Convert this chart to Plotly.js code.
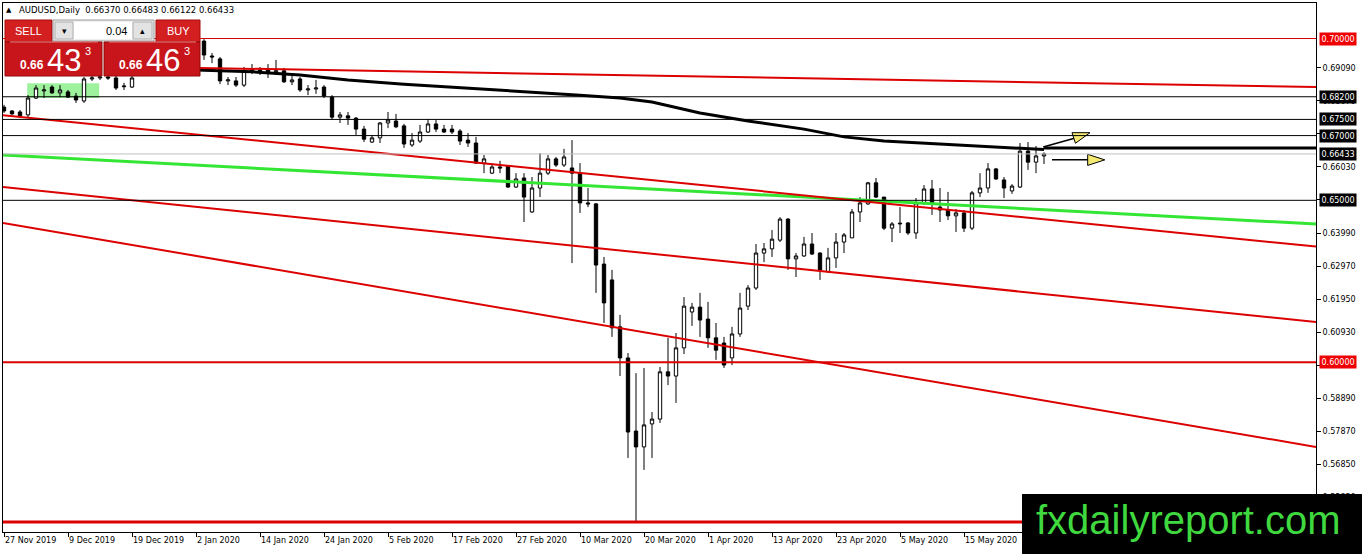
<!DOCTYPE html>
<html><head><meta charset="utf-8">
<script src="https://cdn.plot.ly/plotly-3.0.1.min.js"></script>
<style>html,body{margin:0;padding:0;background:#fff;}#chart{width:1362px;height:554px;}</style>
</head><body><div id="chart"></div>
<script>
// ---------- DATA ----------
const tickIdx = [0, 8, 16, 24, 32, 40, 48, 56, 64, 72, 80, 88, 96, 104, 112, 120];
const tickLabels = ['27 Nov 2019','9 Dec 2019','19 Dec 2019','2 Jan 2020','14 Jan 2020','24 Jan 2020','5 Feb 2020','17 Feb 2020','27 Feb 2020','10 Mar 2020','20 Mar 2020','1 Apr 2020','13 Apr 2020','23 Apr 2020','5 May 2020','15 May 2020'];

const openP = [
0.6788,0.6776,0.6773,0.6764,0.6816,0.6838,0.6850,0.6832,0.6835,0.6822,
0.6807,0.6875,0.6878,0.6881,0.6878,0.6851,0.6850,0.6888,0.6900,0.6912,
0.6930,0.6958,0.6985,0.6998,0.7020,0.6992,0.6946,0.6937,0.6869,0.6869,
0.6856,0.6900,0.6903,0.6906,0.6897,0.6900,0.6866,0.6875,0.6841,0.6844,
0.6850,0.6819,0.6757,0.6761,0.6754,0.6720,0.6680,0.6693,0.6739,0.6745,
0.6730,0.6671,0.6683,0.6711,0.6736,0.6720,0.6720,0.6714,0.6686,0.6677,
0.6615,0.6584,0.6603,0.6606,0.6541,0.6569,0.6464,0.6538,0.6584,0.6628,
0.6609,0.6600,0.6584,0.6492,0.6489,0.6303,0.6254,0.6109,0.6013,0.5787,
0.5738,0.5809,0.5824,0.5970,0.5957,0.6044,0.6155,0.6170,0.6133,0.6075,
0.6059,0.6013,0.6087,0.6173,0.6229,0.6337,0.6350,0.6377,0.6442,0.6319,
0.6328,0.6365,0.6337,0.6279,0.6322,0.6371,0.6384,0.6464,0.6489,0.6554,
0.6510,0.6414,0.6427,0.6430,0.6399,0.6492,0.6535,0.6479,0.6470,0.6452,
0.6461,0.6414,0.6523,0.6538,0.6597,0.6563,0.6529,0.6541,0.6652,0.6618,
0.66370];
const highP = [
0.6795,0.6779,0.6779,0.6825,0.6856,0.6856,0.6856,0.6856,0.6841,0.6832,
0.6881,0.6903,0.6927,0.6897,0.6890,0.6863,0.6890,0.6905,0.6920,0.6935,
0.6965,0.6990,0.7005,0.7030,0.7032,0.6998,0.6955,0.6943,0.6881,0.6881,
0.6912,0.6921,0.6912,0.6921,0.6934,0.6909,0.6884,0.6881,0.6856,0.6872,
0.6856,0.6825,0.6773,0.6773,0.6757,0.6730,0.6702,0.6742,0.6773,0.6767,
0.6736,0.6708,0.6733,0.6751,0.6748,0.6733,0.6733,0.6720,0.6708,0.6696,
0.6640,0.6615,0.6622,0.6609,0.6584,0.6584,0.6572,0.6646,0.6640,0.6634,
0.6659,0.6686,0.6615,0.6538,0.6492,0.6325,0.6285,0.6146,0.6028,0.5966,
0.5982,0.5846,0.5985,0.6075,0.6090,0.6201,0.6183,0.6214,0.6186,0.6121,
0.6078,0.6109,0.6214,0.6238,0.6365,0.6368,0.6408,0.6448,0.6445,0.6337,
0.6387,0.6399,0.6340,0.6353,0.6399,0.6399,0.6473,0.6510,0.6557,0.6569,
0.6510,0.6433,0.6479,0.6433,0.6507,0.6547,0.6563,0.6538,0.6526,0.6473,
0.6470,0.6529,0.6584,0.6615,0.6600,0.6572,0.6550,0.6677,0.6680,0.6668,
0.66483];
const lowP = [
0.6770,0.6764,0.6754,0.6754,0.6813,0.6816,0.6829,0.6819,0.6816,0.6801,
0.6801,0.6869,0.6872,0.6872,0.6841,0.6841,0.6847,0.6886,0.6892,0.6905,
0.6925,0.6950,0.6975,0.6990,0.6985,0.6934,0.6924,0.6859,0.6856,0.6850,
0.6850,0.6890,0.6887,0.6878,0.6893,0.6863,0.6856,0.6835,0.6825,0.6829,
0.6816,0.6748,0.6739,0.6733,0.6702,0.6680,0.6677,0.6677,0.6723,0.6723,
0.6662,0.6665,0.6677,0.6708,0.6711,0.6708,0.6705,0.6671,0.6665,0.6612,
0.6584,0.6581,0.6584,0.6538,0.6538,0.6433,0.6461,0.6510,0.6578,0.6603,
0.6603,0.6306,0.6461,0.6479,0.6214,0.6121,0.6078,0.5957,0.5704,0.5506,
0.5667,0.5704,0.5812,0.5929,0.5874,0.6025,0.6112,0.6078,0.6044,0.6007,
0.5982,0.5991,0.6078,0.6161,0.6223,0.6309,0.6325,0.6371,0.6285,0.6263,
0.6325,0.6331,0.6254,0.6279,0.6291,0.6337,0.6384,0.6433,0.6486,0.6507,
0.6408,0.6371,0.6399,0.6393,0.6381,0.6486,0.6455,0.6433,0.6439,0.6402,
0.6402,0.6408,0.6510,0.6523,0.6563,0.6507,0.6520,0.6538,0.6594,0.6584,
0.66122];
const closeP = [
0.6776,0.6767,0.6761,0.6816,0.6847,0.6841,0.6832,0.6841,0.6819,0.6810,
0.6875,0.6878,0.6881,0.6878,0.6847,0.6853,0.6878,0.6900,0.6912,0.6930,
0.6958,0.6985,0.6998,0.7020,0.6995,0.6949,0.6943,0.6869,0.6872,0.6856,
0.6900,0.6903,0.6900,0.6897,0.6900,0.6866,0.6872,0.6841,0.6844,0.6847,
0.6822,0.6757,0.6764,0.6754,0.6720,0.6689,0.6693,0.6739,0.6748,0.6727,
0.6674,0.6686,0.6711,0.6736,0.6720,0.6711,0.6711,0.6683,0.6677,0.6615,
0.6628,0.6603,0.6600,0.6541,0.6566,0.6510,0.6538,0.6584,0.6628,0.6609,
0.6634,0.6584,0.6492,0.6489,0.6300,0.6183,0.6106,0.6013,0.5784,0.5738,
0.5806,0.5824,0.5970,0.5957,0.6044,0.6173,0.6170,0.6130,0.6075,0.6037,
0.5991,0.6087,0.6167,0.6229,0.6337,0.6350,0.6380,0.6442,0.6319,0.6328,
0.6365,0.6334,0.6285,0.6322,0.6371,0.6393,0.6464,0.6492,0.6554,0.6510,
0.6414,0.6427,0.6429,0.6399,0.6492,0.6535,0.6492,0.6470,0.6452,0.6461,
0.6414,0.6523,0.6538,0.6597,0.6566,0.6538,0.6544,0.6652,0.6618,0.6637,
0.66433];

// moving average (thick black) sampled along the bars
const maIdx = [24, 31, 37, 43, 50, 56, 62, 68, 72, 77, 81, 87, 93, 100, 105, 110, 115, 120, 125, 130];
const maVal = [0.6903,0.6897,0.6887,0.6872,0.6859,0.6850,0.6841,0.6832,0.6825,0.6816,0.6804,0.6770,0.6745,0.6720,0.6696,0.6683,0.6677,0.6671,0.6665,0.6657];

// trend lines: start/end bar index and price
const redTrendStartIdx = [24.5, -0.125, -0.125, -0.125];
const redTrendStartPrice = [0.6909, 0.6763, 0.6541, 0.6430];
const redTrendEndIdx = [164, 164, 164, 164];
const redTrendEndPrice = [0.6850, 0.6357, 0.6124, 0.5738];
const greenTrendIdx = [-0.125, 164];
const greenTrendPrice = [0.6640, 0.6427];

// horizontal levels
const redLevels = [0.70000, 0.60000, 0.5506];
const blackLevels = [0.68200, 0.67500, 0.67000, 0.65000];
const bidPrice = 0.66433;
const rayIdx = [130, 164];
const rayPrice = 0.6662;

// highlighted zone
const zoneIdx = [2.9, 11.9];
const zonePrice = [0.6816, 0.6862];

// arrows (shaft start/end, head tip)
const arrow1ShaftIdx = [129.9, 133.8];
const arrow1ShaftPrice = [0.6665, 0.6692];
const arrow1TipIdx = 135.75;
const arrow1TipPrice = 0.6709;
const arrow2ShaftIdx = [131, 135.6];
const arrow2ShaftPrice = [0.6625, 0.6625];
const arrow2TipIdx = 137.6;
const arrow2TipPrice = 0.6625;

// price axis
const yTickVals = [0.69090,0.68070,0.67050,0.66030,0.65010,0.63990,0.62970,0.61950,0.60930,0.59910,0.58890,0.57870,0.56850,0.55830];
const labelRed = [0.70000, 0.60000];
const labelBlack = [0.68200, 0.67500, 0.67000, 0.66433, 0.65000];

const symbolName = 'AUDUSD,Daily';
const lastBar = [0.66370, 0.66483, 0.66122, 0.66433];
const sellBig = ['0.66', '43', '3'];
const buyBig = ['0.66', '46', '3'];
const lotSize = '0.04';
const siteName = 'fxdailyreport.com';

// ---------- LAYOUT HELPERS ----------
const W = 1362, H = 554;
const PL = 3, PR = 1316, PT = 3, PB = 532;
const fx = px => (px - PL) / (PR - PL);
const fy = py => (PB - py) / (PB - PT);
const RED = '#dc0000';
const GREEN = '#33e633';
const FONT = 'DejaVu Sans';

const idx = openP.map((_, i) => i);

const traces = [];
traces.push({
  type: 'candlestick', x: idx, open: openP, high: highP, low: lowP, close: closeP,
  increasing: {line: {color: '#000', width: 1}, fillcolor: '#ffffff'},
  decreasing: {line: {color: '#000', width: 1}, fillcolor: '#000000'},
  whiskerwidth: 0, hoverinfo: 'skip', showlegend: false
});
traces.push({type: 'scatter', mode: 'lines', x: maIdx, y: maVal, line: {color: '#000', width: 3}, hoverinfo: 'skip', showlegend: false});
traces.push({type: 'scatter', mode: 'lines', x: greenTrendIdx, y: greenTrendPrice, line: {color: GREEN, width: 3}, hoverinfo: 'skip', showlegend: false});
redTrendStartIdx.forEach((s, k) => {
  traces.push({type: 'scatter', mode: 'lines', x: [s, redTrendEndIdx[k]], y: [redTrendStartPrice[k], redTrendEndPrice[k]],
    line: {color: RED, width: 2}, hoverinfo: 'skip', showlegend: false});
});
// arrows
[[arrow1ShaftIdx, arrow1ShaftPrice, arrow1TipIdx, arrow1TipPrice, 72], [arrow2ShaftIdx, arrow2ShaftPrice, arrow2TipIdx, arrow2TipPrice, 90]].forEach(a => {
  traces.push({type: 'scatter', mode: 'lines', x: a[0], y: a[1], line: {color: '#000', width: 1.5}, hoverinfo: 'skip', showlegend: false});
  traces.push({type: 'scatter', mode: 'markers', x: [a[2]], y: [a[3]],
    marker: {symbol: 'arrow', size: 18, angle: a[4], color: '#f3e870', line: {color: '#000', width: 1}},
    hoverinfo: 'skip', showlegend: false});
});

const shapes = [];
shapes.push({type: 'rect', xref: 'x', yref: 'y', x0: zoneIdx[0], x1: zoneIdx[1], y0: zonePrice[0], y1: zonePrice[1],
  fillcolor: '#9ef29e', line: {width: 0}, layer: 'below'});
const redW = [1, 2, 3];
redLevels.forEach((v, k) => shapes.push({type: 'line', xref: 'paper', x0: 0, x1: 1, yref: 'y', y0: v, y1: v, line: {color: RED, width: redW[k]}, layer: 'above'}));
blackLevels.forEach(v => shapes.push({type: 'line', xref: 'paper', x0: 0, x1: 1, yref: 'y', y0: v, y1: v, line: {color: '#000', width: 1}, layer: 'above'}));
shapes.push({type: 'line', xref: 'paper', x0: 0, x1: 1, yref: 'y', y0: bidPrice, y1: bidPrice, line: {color: '#c0c0c0', width: 1}, layer: 'above'});
shapes.push({type: 'line', xref: 'x', x0: rayIdx[0], x1: rayIdx[1], yref: 'y', y0: rayPrice, y1: rayPrice, line: {color: '#000', width: 3}, layer: 'above'});

// one-click trading panel (pixel boxes)
function pxRect(x0, y0, x1, y1, fill, lc, lw) {
  shapes.push({type: 'rect', xref: 'paper', yref: 'paper', x0: fx(x0), x1: fx(x1), y0: fy(y1), y1: fy(y0),
    fillcolor: fill, line: {color: lc || fill, width: lw === undefined ? 1 : lw}, layer: 'above'});
}
function pxLine(x0, y0, x1, y1, c, w) {
  shapes.push({type: 'line', xref: 'paper', yref: 'paper', x0: fx(x0), x1: fx(x1), y0: fy(y0), y1: fy(y1), line: {color: c, width: w}, layer: 'above'});
}
pxRect(5, 20, 102, 76, '#ffffff', '#ffffff', 0);
pxRect(5, 20, 52, 42, '#d31f1f', '#a30d0d');
pxRect(53, 20, 154, 41, '#eeeeee', '#9a9a9a');
pxRect(55, 22, 73, 39, '#e3e3e3', '#b0b0b0');
pxRect(74, 22, 132, 39, '#ffffff', '#ffffff', 0);
pxRect(133, 22, 152, 39, '#e3e3e3', '#b0b0b0');
pxRect(156, 20, 200, 42, '#d31f1f', '#a30d0d');
pxRect(5, 42, 102, 76, '#c8151b', '#8f0a0a');
pxRect(104, 42, 200, 76, '#c8151b', '#8f0a0a');
pxLine(10, 42, 98, 42, '#f08a8a', 1);
pxLine(109, 42, 196, 42, '#f08a8a', 1);
// logo box
pxRect(1022, 494, 1364, 556, '#000000', '#000000', 0);

const annotations = [];
function pxText(x, y, text, size, color, xanchor, family, extra) {
  annotations.push(Object.assign({xref: 'paper', yref: 'paper', x: fx(x), y: fy(y), text: text, showarrow: false,
    xanchor: xanchor || 'left', yanchor: 'middle', font: {family: family || FONT, size: size, color: color}, borderpad: 0}, extra || {}));
}
pxText(5, 10, '▲', 7, '#000');
pxText(18, 10, symbolName + '  ' + lastBar.map(v => v.toFixed(5)).join(' '), 8.5, '#000');
pxText(28.5, 31, 'SELL', 11, '#fff', 'center', 'Liberation Sans');
pxText(178, 31, 'BUY', 11, '#fff', 'center', 'Liberation Sans');
pxText(64, 30.5, '▾', 9, '#000', 'center');
pxText(142.5, 30.5, '▴', 9, '#000', 'center');
pxText(128, 31, lotSize, 11, '#000', 'right', 'Liberation Sans');
pxText(19, 65, '<b>' + sellBig[0] + '</b>', 12, '#fff', 'left', 'Liberation Sans');
pxText(46, 60, sellBig[1], 31, '#fff', 'left', 'Liberation Sans');
pxText(84, 51, sellBig[2], 11, '#fff', 'left', 'Liberation Sans');
pxText(118, 65, '<b>' + buyBig[0] + '</b>', 12, '#fff', 'left', 'Liberation Sans');
pxText(145, 60, buyBig[1], 31, '#fff', 'left', 'Liberation Sans');
pxText(183, 51, buyBig[2], 11, '#fff', 'left', 'Liberation Sans');
pxText(1188, 520, siteName, 40, '#3fd83f', 'center', 'Liberation Sans');

// price labels on axis
labelRed.forEach(v => annotations.push({xref: 'paper', yref: 'y', x: 1, y: v, xanchor: 'left', yanchor: 'middle', xshift: 3,
  text: v.toFixed(5), showarrow: false, bgcolor: '#ee0000', font: {family: FONT, size: 8, color: '#fff'}, borderpad: 1.5}));
labelBlack.forEach(v => annotations.push({xref: 'paper', yref: 'y', x: 1, y: v, xanchor: 'left', yanchor: 'middle', xshift: 3,
  text: v.toFixed(5), showarrow: false, bgcolor: '#000000', font: {family: FONT, size: 8, color: '#fff'}, borderpad: 1.5}));

const layout = {
  width: W, height: H,
  margin: {l: PL, r: W - PR, t: PT, b: H - PB, pad: 0},
  paper_bgcolor: '#fff', plot_bgcolor: '#fff',
  font: {family: FONT, size: 8, color: '#000'},
  showlegend: false, boxgap: 0.4,
  xaxis: {range: [-0.125, 164], tickmode: 'array', tickvals: tickIdx, ticktext: tickLabels,
    ticks: 'outside', ticklen: 4, tickcolor: '#000', showline: true, linecolor: '#000', linewidth: 1, mirror: true,
    showgrid: false, zeroline: false, rangeslider: {visible: false}, ticklabelposition: 'outside right',
    tickfont: {family: FONT, size: 8, color: '#000'}, fixedrange: true, automargin: false},
  yaxis: {side: 'right', range: [0.54751, 0.71097], tickmode: 'array', tickvals: yTickVals, ticktext: yTickVals.map(v => v.toFixed(5)),
    ticks: 'outside', ticklen: 4, tickcolor: '#000', showline: true, linecolor: '#000', linewidth: 1, mirror: true,
    showgrid: false, zeroline: false, tickfont: {family: FONT, size: 8, color: '#000'}, fixedrange: true, automargin: false},
  shapes: shapes, annotations: annotations
};
Plotly.newPlot('chart', traces, layout, {staticPlot: true, displayModeBar: false});
</script></body></html>
